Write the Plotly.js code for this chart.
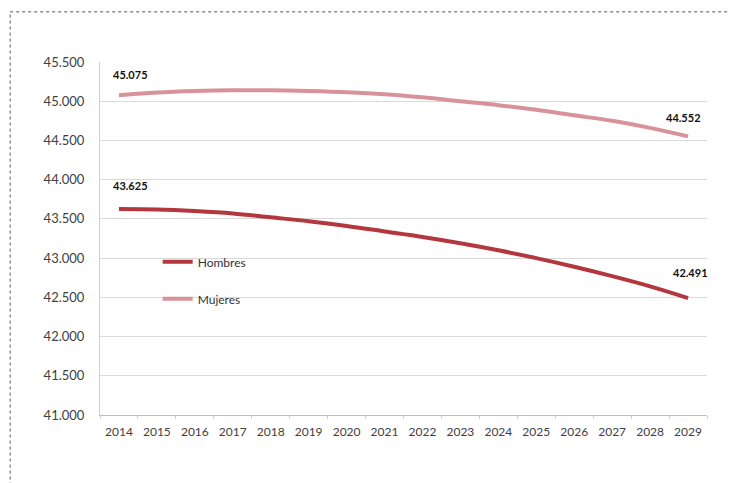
<!DOCTYPE html>
<html>
<head>
<meta charset="utf-8">
<script src="https://cdn.plot.ly/plotly-3.0.1.min.js"></script>
<style>html,body{margin:0;padding:0;background:#fff;}#chart{width:729px;height:483px;}</style>
</head>
<body>
<div id="chart"></div>
<script>
const years = ['2014','2015','2016','2017','2018','2019','2020','2021','2022','2023','2024','2025','2026','2027','2028','2029'];
const hombres = [43625,43620,43600,43570,43520,43470,43410,43340,43270,43190,43100,43000,42890,42770,42640,42491];
const mujeres = [45075,45110,45130,45140,45140,45130,45115,45090,45050,45000,44950,44890,44820,44750,44660,44552];
const yTicks = [41000,41500,42000,42500,43000,43500,44000,44500,45000,45500];

const fmt = v => String(v).replace(/(\d)(?=(\d{3})+$)/g, '$1.');

const traces = [
  {x: years, y: hombres, name: 'Hombres', type: 'scatter', mode: 'lines',
   line: {color: '#b3373d', width: 4, shape: 'spline', smoothing: 1}, legendgroup: 'h'},
  {x: years, y: mujeres, name: 'Mujeres', type: 'scatter', mode: 'lines',
   line: {color: '#d8939a', width: 4, shape: 'spline', smoothing: 1}, legendgroup: 'm'}
];

const last = years.length - 1;
const annFont = {family: 'Lato, "Open Sans", sans-serif', size: 11, color: '#111'};
const annotations = [
  {x: 0, y: hombres[0], text: '<b>' + fmt(hombres[0]) + '</b>', xshift: 12, yshift: 24},
  {x: 0, y: mujeres[0], text: '<b>' + fmt(mujeres[0]) + '</b>', xshift: 12, yshift: 21},
  {x: last, y: hombres[last], text: '<b>' + fmt(hombres[last]) + '</b>', xshift: 2, yshift: 26},
  {x: last, y: mujeres[last], text: '<b>' + fmt(mujeres[last]) + '</b>', xshift: -5, yshift: 19}
].map(a => Object.assign({xref: 'x', yref: 'y', showarrow: false, font: annFont}, a));

const layout = {
  width: 729, height: 483,
  margin: {l: 100, r: 22, t: 62, b: 68},
  paper_bgcolor: '#fff', plot_bgcolor: '#fff',
  separators: ',.',
  showlegend: true,
  legend: {x: 0.095, y: 0.475, xanchor: 'left', yanchor: 'top', bgcolor: 'rgba(0,0,0,0)',
           font: {family: 'Lato, "Open Sans", sans-serif', size: 12, color: '#333'},
           traceorder: 'grouped', tracegroupgap: 18, itemwidth: 30},
  xaxis: {type: 'category', range: [-0.5, last + 0.5], showgrid: false, showline: true,
          linecolor: '#bfbfbf', linewidth: 1, tickangle: 0,
          ticks: 'outside', tickson: 'boundaries', ticklen: 3, tickcolor: '#d0d0d0',
          ticklabelstandoff: 6,
          tickfont: {family: 'Lato, "Open Sans", sans-serif', size: 12, color: '#404040'}},
  yaxis: {range: [41000, 45500], tickvals: yTicks, ticktext: yTicks.map(fmt),
          showgrid: true, gridcolor: '#d9d9d9', gridwidth: 1, zeroline: false,
          showline: true, linecolor: '#d0d0d0', ticks: '', ticklen: 0,
          ticklabelstandoff: 12,
          tickfont: {family: 'Lato, "Open Sans", sans-serif', size: 13, color: '#404040'}},
  annotations: annotations,
  shapes: [
    {type: 'line', xref: 'paper', yref: 'paper', x0: -0.148, x1: 1.04, y0: 1.142, y1: 1.142,
     line: {color: '#555', width: 1, dash: 'dot'}},
    {type: 'line', xref: 'paper', yref: 'paper', x0: -0.148, x1: -0.148, y0: -0.2, y1: 1.142,
     line: {color: '#555', width: 1, dash: 'dot'}}
  ]
};

Plotly.newPlot('chart', traces, layout, {displayModeBar: false, staticPlot: true});
</script>
</body>
</html>
